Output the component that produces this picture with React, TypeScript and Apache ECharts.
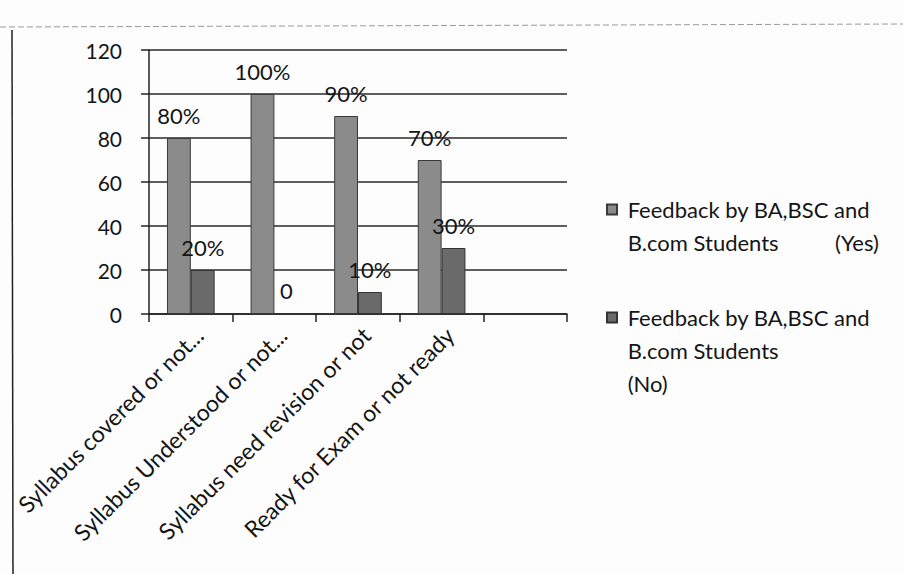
import React, { useEffect, useRef } from "react";
import * as echarts from "echarts";

const categories = [
  "Syllabus covered or not...",
  "Syllabus Understood or not...",
  "Syllabus need revision or not",
  "Ready for Exam or not ready",
  "",
];
const yesValues = [80, 100, 90, 70, null];
const noValues = [20, 0, 10, 30, null];
const yesLabels = ["80%", "100%", "90%", "70%", ""];
const noLabels = ["20%", "0", "10%", "30%", ""];
const yTicks = { min: 0, max: 120, interval: 20 };
const YES_NAME = "Feedback by BA,BSC and\nB.com Students          (Yes)";
const NO_NAME = "Feedback by BA,BSC and\nB.com Students\n(No)";

const FONT = "Lato, 'Open Sans', sans-serif";
const INK = "#151515";

export default function App() {
  const ref = useRef<HTMLDivElement>(null);
  useEffect(() => {
    if (!ref.current) return;
    const chart = echarts.init(ref.current, undefined, { renderer: "svg" });
    chart.setOption({
      animation: false,
      backgroundColor: "#fdfdfd",
      textStyle: { fontFamily: FONT, color: INK },
      graphic: [
        { type: "line", shape: { x1: 0, y1: 27, x2: 903, y2: 24 }, style: { stroke: "#9a9a9a", lineWidth: 1, lineDash: [6, 3] } },
        { type: "line", shape: { x1: 12, y1: 30, x2: 13, y2: 574 }, style: { stroke: "#222", lineWidth: 1.5 } },
      ],
      grid: { left: 149, right: 336, top: 50, bottom: 260, containLabel: false },
      legend: {
        orient: "vertical",
        left: 601,
        top: 155,
        itemWidth: 10,
        itemHeight: 10,
        itemGap: -24,
        icon: "rect",
        formatter: (name: string) =>
          (name === YES_NAME ? "\n " : "\n\n ") + name.replace(/\n/g, "\n "),
        textStyle: { fontSize: 22, lineHeight: 33, color: INK, fontFamily: FONT },
        data: [YES_NAME, NO_NAME],
      },
      xAxis: {
        type: "category",
        data: categories,
        axisLine: { lineStyle: { color: "#222", width: 1.5 } },
        axisTick: { show: true, length: 8, lineStyle: { color: "#222", width: 1.5 } },
        axisLabel: {
          rotate: 45,
          interval: 0,
          fontSize: 23,
          color: INK,
          fontFamily: FONT,
          margin: 9,
          verticalAlign: "top",
        },
      },
      yAxis: {
        type: "value",
        min: yTicks.min,
        max: yTicks.max,
        interval: yTicks.interval,
        axisLine: { show: true, lineStyle: { color: "#222", width: 1.5 } },
        axisTick: { show: true, length: 8, lineStyle: { color: "#222", width: 1.5 } },
        axisLabel: { fontSize: 21, color: INK, fontFamily: FONT, margin: 27 },
        splitLine: { lineStyle: { color: "#2a2a2a", width: 1.5 } },
      },
      series: [
        {
          name: YES_NAME,
          type: "bar",
          data: yesValues,
          barGap: "0%",
          barCategoryGap: "43%",
          itemStyle: { color: "#8b8b8b", borderColor: "#3a3a3a", borderWidth: 1 },
          label: {
            show: true,
            position: "top",
            distance: 12,
            fontSize: 22,
            color: INK,
            fontFamily: FONT,
            formatter: (p: any) => yesLabels[p.dataIndex],
          },
        },
        {
          name: NO_NAME,
          type: "bar",
          data: noValues,
          itemStyle: { color: "#6a6a6a", borderColor: "#333", borderWidth: 1 },
          label: {
            show: true,
            position: "top",
            distance: 12,
            fontSize: 22,
            color: INK,
            fontFamily: FONT,
            formatter: (p: any) => noLabels[p.dataIndex],
          },
        },
      ],
    });
    return () => chart.dispose();
  }, []);
  return <div ref={ref} style={{ width: 903, height: 574, position: "absolute", left: 0, top: 0 }} />;
}
